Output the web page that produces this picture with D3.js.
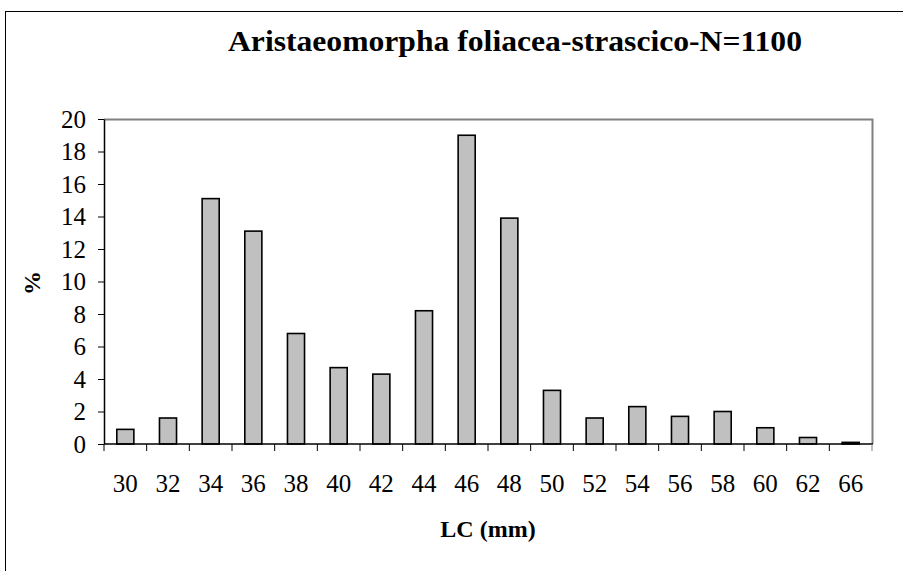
<!DOCTYPE html>
<meta charset="utf-8">
<head>
<style>
  body { margin: 0; background: #fff; }
</style>
<script src="https://d3js.org/d3.v7.min.js"></script>
</head>
<body>
<div id="chart"></div>
<script>
// LC size classes (mm) and percentage frequency
var classes = ["30", "32", "34", "36", "38", "40", "42", "44", "46", "48", "50", "52", "54", "56", "58", "60", "62", "66"];
var percent = [0.9, 1.6, 15.1, 13.1, 6.8, 4.7, 4.3, 8.2, 19.0, 13.9, 3.3, 1.6, 2.3, 1.7, 2.0, 1.0, 0.4, 0.1];
var yTicks = [0, 2, 4, 6, 8, 10, 12, 14, 16, 18, 20];

var W = 903, H = 571;
var plot = { left: 104, right: 872, top: 119, bottom: 444 };
var serif = "'Liberation Serif', 'DejaVu Serif', serif";

var svg = d3.select("#chart").append("svg")
    .attr("width", W)
    .attr("height", H)
    .style("font-family", serif);

// outer chart frame (runs off the right and bottom edge)
svg.append("rect")
    .attr("x", 5.5).attr("y", 11.5)
    .attr("width", 1000).attr("height", 1000)
    .attr("fill", "none")
    .attr("stroke", "#000")
    .attr("stroke-width", 1);

var x = d3.scaleBand()
    .domain(classes)
    .range([plot.left, plot.right])
    .paddingInner(0.6)
    .paddingOuter(0.3);

var xAxisScale = d3.scaleBand()
    .domain(classes)
    .range([plot.left, plot.right]);

var y = d3.scaleLinear()
    .domain([0, 20])
    .range([plot.bottom, plot.top]);

// plot area border: top and right in grey
svg.append("path")
    .attr("d", "M" + plot.left + "," + (plot.top + 0.5) + "H" + (plot.right + 0.5) + "V" + plot.bottom)
    .attr("fill", "none")
    .attr("stroke", "#808080")
    .attr("stroke-width", 2);

// bars
svg.append("g")
    .selectAll("rect")
    .data(percent)
    .enter().append("rect")
    .attr("x", function (d, i) { return x(classes[i]); })
    .attr("y", function (d) { return y(d); })
    .attr("width", x.bandwidth())
    .attr("height", function (d) { return plot.bottom - y(d); })
    .attr("fill", "#c0c0c0")
    .attr("stroke", "#000")
    .attr("stroke-width", 1.6);

// y axis
var yAxis = svg.append("g")
    .attr("transform", "translate(" + plot.left + ",0)")
    .call(d3.axisLeft(y).tickValues(yTicks).tickSize(6).tickPadding(12).tickSizeOuter(0));
yAxis.attr("font-family", serif).attr("font-size", 25);
yAxis.select(".domain").attr("stroke", "#000").attr("stroke-width", 1.5);
yAxis.selectAll(".tick line").attr("stroke", "#000");
yAxis.selectAll(".tick text").attr("fill", "#000");

// x axis: ticks on band boundaries, labels centred under bars
var xg = svg.append("g")
    .attr("transform", "translate(0," + plot.bottom + ")")
    .attr("font-family", serif)
    .attr("font-size", 25);
xg.append("line")
    .attr("x1", plot.left).attr("x2", plot.right + 1)
    .attr("stroke", "#000").attr("stroke-width", 1.5);
var bounds = classes.map(function (c) { return xAxisScale(c); }).concat([plot.right]);
xg.selectAll(".xt")
    .data(bounds)
    .enter().append("line")
    .attr("x1", function (d) { return d; })
    .attr("x2", function (d) { return d; })
    .attr("y1", 0).attr("y2", 7)
    .attr("stroke", function (d, i) { return i === bounds.length - 1 ? "#808080" : "#000"; })
    .attr("stroke-width", 1);
xg.selectAll(".xl")
    .data(classes)
    .enter().append("text")
    .attr("x", function (d) { return xAxisScale(d) + xAxisScale.bandwidth() / 2; })
    .attr("y", 48)
    .attr("text-anchor", "middle")
    .text(function (d) { return d; });

// title
svg.append("text")
    .attr("x", 515)
    .attr("y", 51)
    .attr("text-anchor", "middle")
    .attr("font-size", 29)
    .attr("font-weight", "bold")
    .attr("textLength", 574)
    .attr("lengthAdjust", "spacingAndGlyphs")
    .text("Aristaeomorpha foliacea-strascico-N=1100");

// axis titles
svg.append("text")
    .attr("x", 488)
    .attr("y", 537)
    .attr("text-anchor", "middle")
    .attr("font-size", 24)
    .attr("font-weight", "bold")
    .text("LC (mm)");

svg.append("text")
    .attr("transform", "translate(40,283) rotate(-90)")
    .attr("text-anchor", "middle")
    .attr("font-size", 24)
    .attr("font-weight", "bold")
    .text("%");
</script>
</body>
